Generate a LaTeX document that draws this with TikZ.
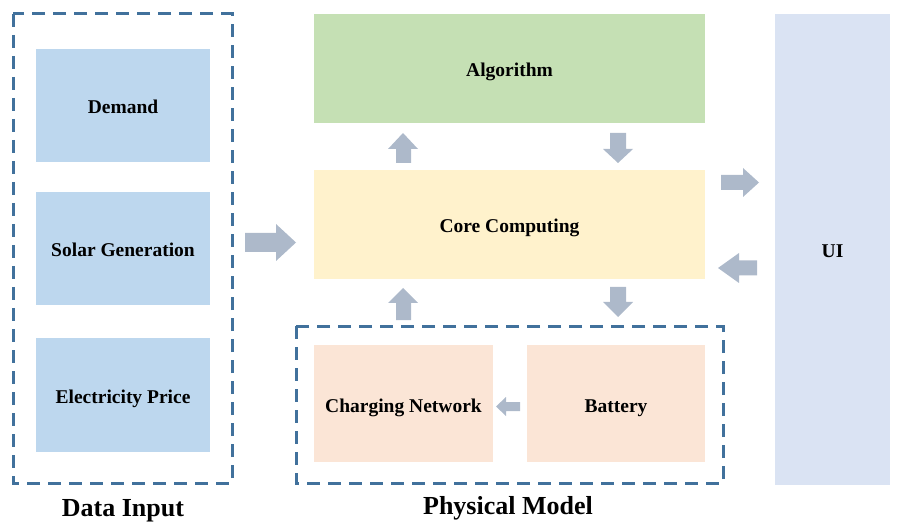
\documentclass[tikz,border=0pt]{standalone}
\usepackage{fontspec}
\setmainfont{Liberation Serif}
\definecolor{cblue}{HTML}{BDD7EE}
\definecolor{cgreen}{HTML}{C5E0B4}
\definecolor{cyellow}{HTML}{FFF2CC}
\definecolor{cpeach}{HTML}{FBE5D6}
\definecolor{cui}{HTML}{DAE3F3}
\definecolor{carrow}{HTML}{ADB9CA}
\definecolor{cdash}{HTML}{41719C}
\tikzset{
  boxnode/.style={draw=none, inner sep=0pt, text height=17pt, text depth=0pt, font=\fontsize{19.5}{22}\selectfont\bfseries},
  groupbox/.style={draw=cdash, line width=3pt, dash pattern=on 13pt off 8pt},
  grouplabel/.style={inner sep=0pt, text height=17pt, text depth=5pt, font=\fontsize{26}{30}\selectfont\bfseries},
  blk/.style={fill=carrow, draw=none}
}
\begin{document}
\begin{tikzpicture}[x=1pt,y=-1pt]
\useasboundingbox (0,0) rectangle (904,526);
% group frames
\draw[groupbox] (13,14) rectangle (232,483);
\draw[groupbox] (296,326) rectangle (723,483);
% data input boxes
\node[boxnode, fill=cblue, minimum width=174pt, minimum height=113pt] (demand) at (123,105.5) {Demand};
\node[boxnode, fill=cblue, minimum width=174pt, minimum height=113pt] (solar) at (123,248.5) {Solar Generation};
\node[boxnode, fill=cblue, minimum width=174pt, minimum height=114pt] (price) at (123,395) {Electricity Price};
% center boxes
\node[boxnode, fill=cgreen, minimum width=391pt, minimum height=109pt] (algo) at (509.5,68.5) {Algorithm};
\node[boxnode, fill=cyellow, minimum width=391pt, minimum height=109pt] (core) at (509.5,224.5) {Core Computing};
\node[boxnode, fill=cpeach, minimum width=179pt, minimum height=117pt] (charging) at (403.5,403.5) {Charging Network};
\node[boxnode, fill=cpeach, minimum width=178pt, minimum height=117pt] (battery) at (616,403.5) {Battery};
\node[boxnode, fill=cui, minimum width=115pt, minimum height=471pt] (ui) at (832.5,249.5) {UI};
% labels
\node[grouplabel] (datalabel) at (123,510) {Data Input};
\node[grouplabel] (physlabel) at (508,508) {Physical Model};
% block arrows
% data -> core
\fill[blk] (245,233) -- (276,233) -- (276,224) -- (296,242.5) -- (276,261) -- (276,252) -- (245,252) -- cycle;
% core -> algo (up)
\fill[blk] (396,163) -- (396,149) -- (388,149) -- (403,133) -- (418,149) -- (411,149) -- (411,163) -- cycle;
% algo -> core (down)
\fill[blk] (610,133) -- (610,149) -- (603,149) -- (618,163) -- (633,149) -- (626,149) -- (626,133) -- cycle;
% core -> ui
\fill[blk] (721,175) -- (743,175) -- (743,168) -- (759,182.5) -- (743,197) -- (743,190) -- (721,190) -- cycle;
% ui -> core
\fill[blk] (757,260.5) -- (739,260.5) -- (739,253) -- (718,268) -- (739,283) -- (739,275.5) -- (757,275.5) -- cycle;
% core -> battery (down)
\fill[blk] (610,287) -- (610,302) -- (603,302) -- (618,317) -- (633,302) -- (626,302) -- (626,287) -- cycle;
% charging -> core (up)
\fill[blk] (396,320) -- (396,303) -- (388,303) -- (403,288) -- (418,303) -- (411,303) -- (411,320) -- cycle;
% battery -> charging
\fill[blk] (520,402) -- (506,402) -- (506,397) -- (496,406.5) -- (506,416) -- (506,411) -- (520,411) -- cycle;
\end{tikzpicture}
\end{document}
